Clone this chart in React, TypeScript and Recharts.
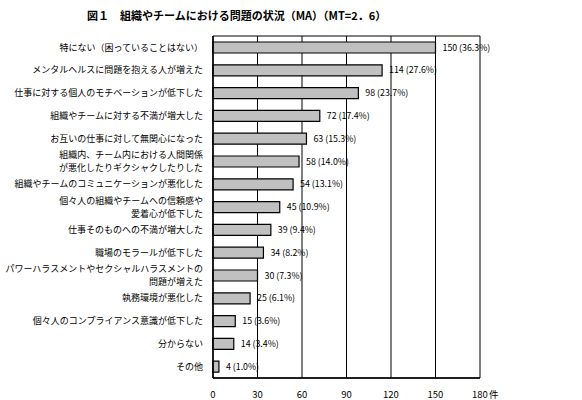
import { Bar, BarChart, CartesianGrid, LabelList, XAxis, YAxis } from "recharts";

const categories = [
  "特にない（困っていることはない）",
  "メンタルヘルスに問題を抱える人が増えた",
  "仕事に対する個人のモチベーションが低下した",
  "組織やチームに対する不満が増大した",
  "お互いの仕事に対して無関心になった",
  "組織内、チーム内における人間関係\nが悪化したりギクシャクしたりした",
  "組織やチームのコミュニケーションが悪化した",
  "個々人の組織やチームへの信頼感や\n愛着心が低下した",
  "仕事そのものへの不満が増大した",
  "職場のモラールが低下した",
  "パワーハラスメントやセクシャルハラスメントの\n問題が増えた",
  "執務環境が悪化した",
  "個々人のコンプライアンス意識が低下した",
  "分からない",
  "その他",
];
const counts = [150, 114, 98, 72, 63, 58, 54, 45, 39, 34, 30, 25, 15, 14, 4];
const percents = [36.3, 27.6, 23.7, 17.4, 15.3, 14.0, 13.1, 10.9, 9.4, 8.2, 7.3, 6.1, 3.6, 3.4, 1.0];
const xTicks = [0, 30, 60, 90, 120, 150, 180];

const FONT = '"Noto Sans CJK JP", "Noto Sans", sans-serif';

const data = categories.map((name, i) => ({
  name,
  value: counts[i],
  label: `${counts[i]} (${percents[i].toFixed(1)}%)`,
}));

const CategoryTick = ({ x, y, payload }: any) => {
  const lines = String(payload.value).split("\n");
  const lh = 12.7;
  return (
    <text x={x} y={y} textAnchor="end" fontSize={9} fill="#000" fontFamily={FONT}>
      {lines.map((l, i) => (
        <tspan key={i} x={x} y={y + (i - (lines.length - 1) / 2) * lh} dy="0.35em">
          {l}
        </tspan>
      ))}
    </text>
  );
};

const ValueTick = ({ x, y, payload }: any) => (
  <g>
    <text x={x} y={y} dy="0.35em" textAnchor="middle" fontSize={9.5} fill="#000" fontFamily={FONT}>
      {payload.value}
    </text>
    {payload.value === 180 && (
      <text x={x + 9} y={y} dy="0.35em" textAnchor="start" fontSize={9.5} fill="#000" fontFamily={FONT}>
        件
      </text>
    )}
  </g>
);

export default function App() {
  return (
    <div style={{ position: "absolute", left: 0, top: 0, width: 582, height: 400, background: "#fff" }}>
      <div
        style={{
          position: "absolute",
          left: 87,
          top: 7,
          fontFamily: FONT,
          fontSize: 11,
          fontWeight: 700,
          lineHeight: "16px",
          color: "#000",
          whiteSpace: "pre",
        }}
      >
        図１　組織やチームにおける問題の状況（MA）（MT=2．6）
      </div>
      <BarChart
        width={582}
        height={400}
        data={data}
        layout="vertical"
        margin={{ top: 36, right: 102, bottom: 0, left: 0 }}
        barCategoryGap={0}
      >
        <CartesianGrid
          stroke="#000"
          strokeWidth={1}
          horizontalCoordinatesGenerator={({ offset }: any) => [offset.top, offset.top + offset.height]}
        />
        <XAxis
          type="number"
          domain={[0, 180]}
          ticks={xTicks}
          height={22}
          tickLine={false}
          tickMargin={11}
          axisLine={{ stroke: "#000", strokeWidth: 1.5 }}
          tick={<ValueTick />}
        />
        <YAxis
          type="category"
          dataKey="name"
          width={213}
          tickLine={false}
          tickMargin={4}
          interval={0}
          axisLine={{ stroke: "#000", strokeWidth: 1.5 }}
          tick={<CategoryTick />}
        />
        <Bar dataKey="value" fill="#c0c0c0" stroke="#000" strokeWidth={1.2} barSize={11} isAnimationActive={false}>
          <LabelList
            dataKey="label"
            position="right"
            offset={7}
            fontSize={8.8}
            fill="#000"
            fontFamily={FONT}
          />
        </Bar>
      </BarChart>
    </div>
  );
}
